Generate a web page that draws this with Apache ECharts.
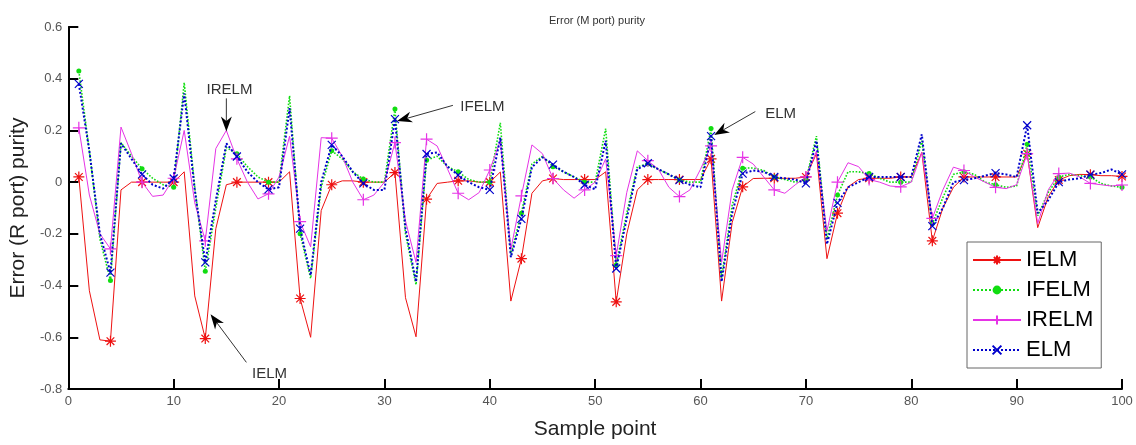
<!DOCTYPE html>
<html>
<head>
<meta charset="utf-8">
<script src="https://cdn.jsdelivr.net/npm/echarts@6/dist/echarts.min.js"></script>
<style>html,body{margin:0;padding:0;background:#fff;}#c{width:1136px;height:445px;}</style>
</head>
<body>
<div id="c"></div>
<script>
// x = 1..100 (sample point)
var xTicks = [0,10,20,30,40,50,60,70,80,90,100];
var yTicks = [-0.8,-0.6,-0.4,-0.2,0,0.2,0.4,0.6];

var IELM = [
 0.02,-0.42,-0.61,-0.615,-0.03,0.0,0.0,0.0,0.0,0.0,
 0.04,-0.44,-0.605,-0.18,-0.01,0.0,0.0,0.0,0.0,0.0,
 0.04,-0.45,-0.6,-0.11,-0.01,0.005,0.005,0.0,0.0,0.0,
 0.037,-0.447,-0.598,-0.066,-0.005,0.0,0.005,0.005,0.0,0.0,
 0.039,-0.46,-0.296,-0.043,0.005,0.014,0.01,0.01,0.01,0.01,
 0.04,-0.463,-0.2,-0.03,0.01,0.01,0.01,0.01,0.01,0.01,
 0.09,-0.46,-0.157,-0.018,0.014,0.015,0.015,0.015,0.015,0.02,
 0.11,-0.296,-0.12,-0.018,0.01,0.015,0.015,0.015,0.02,0.02,
 0.115,-0.227,-0.1,-0.02,0.02,0.02,0.02,0.02,0.02,0.02,
 0.11,-0.176,-0.056,0.008,0.025,0.03,0.029,0.025,0.025,0.022
];
var IFELM = [
 0.43,0.12,-0.22,-0.38,0.153,0.1,0.052,0.015,-0.01,-0.02,
 0.385,-0.02,-0.345,-0.1,0.134,0.11,0.06,0.02,0.0,0.0,
 0.334,-0.2,-0.372,-0.02,0.121,0.09,0.04,0.012,0.0,0.0,
 0.283,-0.2,-0.397,0.085,0.1,0.06,0.04,0.01,0.0,0.0,
 0.229,-0.28,-0.12,0.07,0.1,0.06,0.04,0.02,0.0,0.0,
 0.207,-0.32,-0.12,0.06,0.07,0.05,0.03,0.008,0.0,0.0,
 0.207,-0.37,-0.09,0.054,0.055,0.045,0.02,0.01,0.0,0.008,
 0.178,-0.22,-0.05,0.04,0.04,0.033,0.015,0.0,0.0,0.0,
 0.16,-0.16,-0.06,0.03,0.04,0.03,0.0,-0.01,-0.02,-0.015,
 0.147,-0.13,-0.04,0.02,0.03,0.025,0.02,-0.005,-0.015,-0.02
];
var IRELM = [
 0.21,-0.05,-0.2,-0.258,0.213,0.11,0.0,-0.055,-0.05,0.015,
 0.2,-0.08,-0.227,0.13,0.2,0.09,0.0,-0.065,-0.045,0.02,
 0.178,-0.153,-0.25,0.172,0.17,0.1,0.0,-0.068,-0.05,0.0,
 0.153,-0.15,-0.31,0.166,0.14,0.05,-0.043,-0.068,-0.04,0.047,
 0.16,-0.26,-0.053,0.144,0.11,0.014,-0.03,-0.062,-0.03,0.0,
 0.09,-0.284,-0.04,0.121,0.083,0.05,-0.02,-0.056,-0.03,0.05,
 0.14,-0.31,-0.03,0.096,0.07,0.02,-0.03,-0.043,-0.01,0.02,
 0.12,-0.19,0.0,0.075,0.06,0.01,0.0,-0.015,-0.018,0.0,
 0.115,-0.14,-0.03,0.058,0.045,0.02,0.0,-0.02,-0.025,-0.01,
 0.11,-0.16,-0.03,0.033,0.035,0.02,-0.005,-0.01,-0.015,-0.011
];
var ELM = [
 0.38,0.12,-0.2,-0.35,0.15,0.09,0.03,-0.01,-0.025,0.014,
 0.343,-0.03,-0.31,-0.07,0.15,0.099,0.04,0.0,-0.028,-0.02,
 0.286,-0.18,-0.36,0.0,0.144,0.1,0.04,-0.005,-0.03,-0.03,
 0.244,-0.18,-0.385,0.109,0.115,0.06,0.027,0.0,-0.02,-0.03,
 0.172,-0.29,-0.142,0.058,0.096,0.068,0.04,0.02,-0.01,-0.028,
 0.16,-0.334,-0.14,0.05,0.073,0.05,0.03,0.008,-0.01,-0.02,
 0.178,-0.385,-0.12,0.033,0.045,0.04,0.02,0.015,0.01,-0.005,
 0.16,-0.24,-0.08,-0.02,0.0,0.02,0.02,0.02,0.02,0.02,
 0.185,-0.17,-0.1,0.0,0.008,0.015,0.025,0.035,0.03,0.02,
 0.22,-0.12,-0.07,0.0,0.01,0.015,0.029,0.035,0.049,0.03
];

// annotations: text position and arrow from -> to, in data coordinates
var annoText = ['IRELM','IELM','IFELM','ELM'];
var annoTextPos = [[15.3,0.358],[19.1,-0.742],[39.3,0.293],[67.6,0.265]];
var annoFrom = [[15.0,0.324],[16.9,-0.697],[36.5,0.297],[65.2,0.273]];
var annoTo = [[15.0,0.196],[13.5,-0.511],[31.2,0.236],[61.3,0.182]];

var SYM_AST = 'path://M5,0L5,10M0,5L10,5M1.5,1.5L8.5,8.5M8.5,1.5L1.5,8.5';
var SYM_PLUS = 'path://M5,0L5,10M0,5L10,5';
var SYM_X = 'path://M0,0L10,10M10,0L0,10';

function build(arr) {
  return arr.map(function (v, i) {
    if (i % 3 === 0) return [i + 1, v];
    return { value: [i + 1, v], symbol: 'none' };
  });
}

var chart = echarts.init(document.getElementById('c'), null, { renderer: 'canvas' });
var FONT = 'Liberation Sans, Arial, sans-serif';

var option = {
  animation: false,
  backgroundColor: '#ffffff',
  title: {
    text: 'Error (M port) purity',
    left: 592, top: 10, textAlign: 'center',
    textStyle: { fontSize: 11, fontWeight: 'normal', color: '#333', fontFamily: FONT }
  },
  grid: { left: 63, right: 14, top: 27, bottom: 49, containLabel: false },
  legend: {
    orient: 'vertical',
    left: 967, top: 242,
    padding: [7, 8, 7, 5],
    itemGap: 8,
    itemWidth: 48, itemHeight: 11,
    backgroundColor: '#fff',
    borderColor: '#666', borderWidth: 1,
    textStyle: { fontSize: 22, color: '#000', fontFamily: FONT, lineHeight: 22 },
    data: ['IELM', 'IFELM', 'IRELM', 'ELM']
  },
  xAxis: {
    type: 'value', min: 0, max: 100, interval: 10,
    name: 'Sample point', nameLocation: 'middle', nameGap: 30,
    nameTextStyle: { fontSize: 21, color: '#222', fontFamily: FONT },
    axisLine: { show: true, onZero: false, lineStyle: { color: '#000', width: 2 } },
    axisTick: { show: true, inside: true, length: 10, lineStyle: { color: '#000', width: 2 } },
    axisLabel: { fontSize: 13, color: '#555', margin: 6, fontFamily: FONT },
    splitLine: { show: false }
  },
  yAxis: {
    type: 'value', min: -0.8, max: 0.6, interval: 0.2,
    name: 'Error (R port) purity', nameLocation: 'middle', nameGap: 35,
    nameTextStyle: { fontSize: 21, color: '#222', fontFamily: FONT },
    axisLine: { show: true, onZero: false, lineStyle: { color: '#000', width: 2 } },
    axisTick: { show: true, inside: true, length: 10, lineStyle: { color: '#000', width: 2 } },
    axisLabel: {
      fontSize: 13, color: '#555', margin: 6, fontFamily: FONT,
      formatter: function (v) { return String(Math.round(v * 10) / 10); }
    },
    splitLine: { show: false }
  },
  series: [
    {
      name: 'IELM', type: 'line', data: build(IELM),
      symbol: SYM_AST, symbolSize: 11, showAllSymbol: true,
      lineStyle: { color: '#ee1111', width: 1 },
      itemStyle: { color: 'rgba(0,0,0,0)', borderColor: '#ee1111', borderWidth: 1.2 },
      emphasis: { disabled: true }, z: 2
    },
    {
      name: 'IFELM', type: 'line', data: build(IFELM),
      symbol: 'circle', symbolSize: 5, showAllSymbol: true,
      lineStyle: { color: '#11dd11', width: 1.6, type: 'dotted' },
      itemStyle: { color: '#11dd11', borderWidth: 0 },
      emphasis: { disabled: true }, z: 3
    },
    {
      name: 'IRELM', type: 'line', data: build(IRELM),
      symbol: SYM_PLUS, symbolSize: 12, showAllSymbol: true,
      lineStyle: { color: '#e633e6', width: 1 },
      itemStyle: { color: 'rgba(0,0,0,0)', borderColor: '#e633e6', borderWidth: 1.2 },
      emphasis: { disabled: true }, z: 4
    },
    {
      name: 'ELM', type: 'line', data: build(ELM),
      symbol: SYM_X, symbolSize: 8, showAllSymbol: true,
      lineStyle: { color: '#0000cc', width: 2, type: 'dotted' },
      itemStyle: { color: 'rgba(0,0,0,0)', borderColor: '#0000cc', borderWidth: 1.2 },
      emphasis: { disabled: true }, z: 5
    }
  ]
};
chart.setOption(option);

// annotations with arrows, placed via the chart's own coordinate conversion
var g = [];
for (var i = 0; i < annoText.length; i++) {
  var tp = chart.convertToPixel({ gridIndex: 0 }, annoTextPos[i]);
  var a = chart.convertToPixel({ gridIndex: 0 }, annoFrom[i]);
  var b = chart.convertToPixel({ gridIndex: 0 }, annoTo[i]);
  g.push({
    type: 'text', x: tp[0], y: tp[1], z: 100,
    style: { text: annoText[i], fill: '#333', fontSize: 15, fontFamily: FONT, align: 'center', verticalAlign: 'middle' }
  });
  var dx = b[0] - a[0], dy = b[1] - a[1];
  var len = Math.sqrt(dx * dx + dy * dy);
  var ux = dx / len, uy = dy / len;
  var hl = 15, hw = 5.5;
  var bx = b[0] - ux * hl, by = b[1] - uy * hl;
  var mx = b[0] - ux * hl * 0.7, my = b[1] - uy * hl * 0.7;
  g.push({
    type: 'line', z: 100,
    shape: { x1: a[0], y1: a[1], x2: mx, y2: my },
    style: { stroke: '#333', lineWidth: 1 }
  });
  g.push({
    type: 'polygon', z: 100,
    shape: { points: [[b[0], b[1]], [bx - uy * hw, by + ux * hw], [mx, my], [bx + uy * hw, by - ux * hw]] },
    style: { fill: '#000' }
  });
}
chart.setOption({ graphic: g });
</script>
</body>
</html>
